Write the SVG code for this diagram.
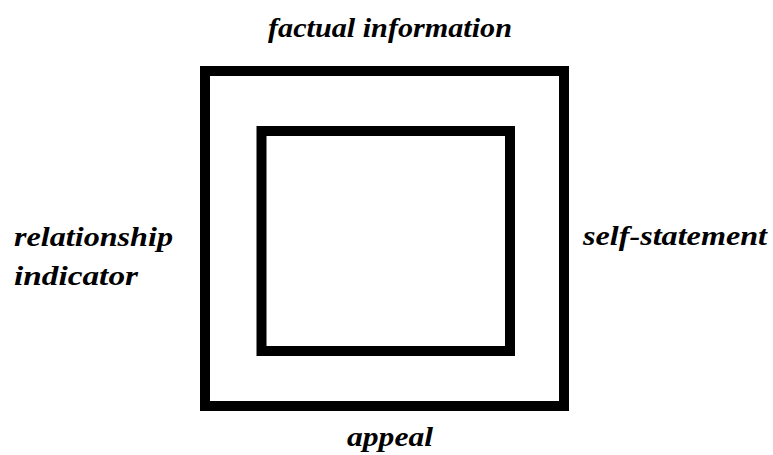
<svg xmlns="http://www.w3.org/2000/svg" width="773" height="455" viewBox="0 0 773 455">
<style>
.box{fill:none;stroke:#000;stroke-width:10}
.lbl{font-family:"Liberation Serif","Times New Roman",serif;font-weight:bold;font-style:italic;font-size:27px;fill:#000}
</style>
<rect width="773" height="455" fill="#fff"/>
<g id="outer"><rect class="box" x="205" y="71" width="359" height="335"/></g>
<g id="inner"><rect class="box" x="261.5" y="131" width="248.5" height="220"/></g>
<g id="labels">
<text class="lbl" x="268" y="37" textLength="244" lengthAdjust="spacingAndGlyphs">factual information</text>
<text class="lbl" x="14" y="246" textLength="159" lengthAdjust="spacingAndGlyphs">relationship</text>
<text class="lbl" x="14" y="285" textLength="124" lengthAdjust="spacingAndGlyphs">indicator</text>
<text class="lbl" x="583" y="245" textLength="184" lengthAdjust="spacingAndGlyphs">self-statement</text>
<text class="lbl" x="347" y="446" textLength="86" lengthAdjust="spacingAndGlyphs">appeal</text>
</g>
</svg>
